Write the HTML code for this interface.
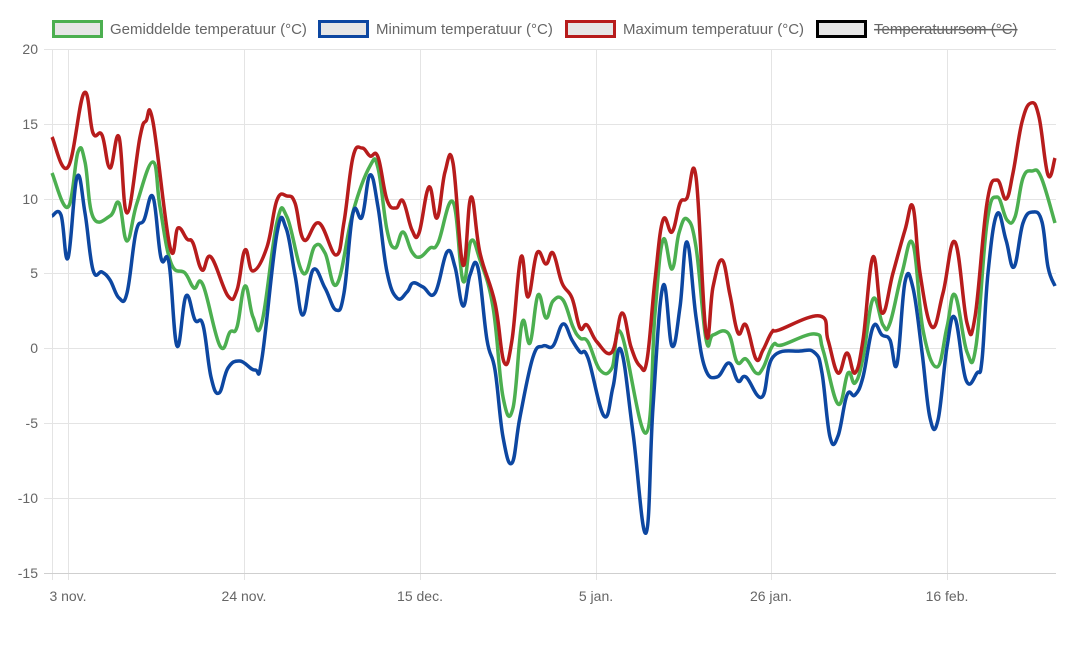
<!DOCTYPE html>
<html><head><meta charset="utf-8"><style>
body{margin:0;background:#fff;font-family:"Liberation Sans",sans-serif}
</style></head><body>
<svg width="1080" height="657" xmlns="http://www.w3.org/2000/svg" font-family="Liberation Sans, sans-serif">
<g stroke="#e4e4e4" stroke-width="1">
<line x1="44" y1="49.5" x2="1056" y2="49.5"/><line x1="44" y1="124.5" x2="1056" y2="124.5"/>
<line x1="44" y1="199.5" x2="1056" y2="199.5"/><line x1="44" y1="273.5" x2="1056" y2="273.5"/>
<line x1="44" y1="348.5" x2="1056" y2="348.5"/><line x1="44" y1="423.5" x2="1056" y2="423.5"/>
<line x1="44" y1="498.5" x2="1056" y2="498.5"/>
<line x1="52.5" y1="49" x2="52.5" y2="580"/><line x1="68.5" y1="49" x2="68.5" y2="580"/>
<line x1="244.5" y1="49" x2="244.5" y2="580"/><line x1="420.5" y1="49" x2="420.5" y2="580"/>
<line x1="596.5" y1="49" x2="596.5" y2="580"/><line x1="771.5" y1="49" x2="771.5" y2="580"/>
<line x1="947.5" y1="49" x2="947.5" y2="580"/>
</g>
<line x1="44" y1="573.5" x2="1056" y2="573.5" stroke="#cfcfcf"/>
<g font-size="14" fill="#666" text-anchor="end">
<text x="38" y="54">20</text><text x="38" y="129">15</text><text x="38" y="204">10</text>
<text x="38" y="278">5</text><text x="38" y="353">0</text><text x="38" y="428">-5</text>
<text x="38" y="503">-10</text><text x="38" y="578">-15</text>
</g>
<g font-size="14" fill="#666" text-anchor="middle">
<text x="68" y="601">3 nov.</text><text x="244" y="601">24 nov.</text><text x="420" y="601">15 dec.</text>
<text x="596" y="601">5 jan.</text><text x="771" y="601">26 jan.</text><text x="947" y="601">16 feb.</text>
</g>
<g font-size="15" fill="#666">
<rect x="53.5" y="21.5" width="48" height="15" fill="#e6e6e6" stroke="#4caf50" stroke-width="3"/>
<text x="110" y="34">Gemiddelde temperatuur (°C)</text>
<rect x="319.5" y="21.5" width="48" height="15" fill="#e6e6e6" stroke="#0d47a1" stroke-width="3"/>
<text x="376" y="34">Minimum temperatuur (°C)</text>
<rect x="566.5" y="21.5" width="48" height="15" fill="#e6e6e6" stroke="#b71c1c" stroke-width="3"/>
<text x="623" y="34">Maximum temperatuur (°C)</text>
<rect x="817.5" y="21.5" width="48" height="15" fill="#e6e6e6" stroke="#000" stroke-width="3"/>
<text x="874" y="34" text-decoration="line-through">Temperatuursom (°C)</text>
</g>
<path id="g" fill="none" stroke="#4caf50" stroke-width="3.5"/>
<path id="b" fill="none" stroke="#0d47a1" stroke-width="3.5"/>
<path id="r" fill="none" stroke="#b71c1c" stroke-width="3.5"/>
</svg>
<script>
var R=[52,137,68,167,84,93,93,133,102,135,110,168,119,137,127,213,140,137,146,121,153,122,170,247,178,228,187,239,193,243,202,270,211,257,228,296,237,290,245,250,253,271,267,247,277,200,287,196,295,203,304,240,319,223,336,255,344,222,353,157,362,148,370,156,378,157,387,200,396,208,403,201,412,230,419,233,429,187,437,218,445,172,453,163,463,265,471,197,480,253,495,303,504,362,512,340,521,257,528,297,537,253,546,264,553,253,562,283,572,298,580,328,587,325,597,342,612,352,622,313,631,347,640,366,647,360,655,280,663,220,672,232,680,203,687,198,696,177,706,333,713,287,722,260,730,295,738,333,746,325,756,359,763,350,772,332,779,330,820,316,828,340,838,373,847,353,855,373,863,340,873,257,882,313,893,273,905,230,913,207,920,273,932,327,943,293,955,242,967,323,975,317,987,203,997,180,1006,199,1013,173,1022,122,1031,103,1039,117,1048,175,1055,158];
var G=[52,173,68,207,78,152,85,162,93,217,110,216,119,203,127,241,137,203,153,162,160,207,171,263,185,273,194,288,203,285,220,346,230,332,237,327,245,286,253,317,262,322,277,222,287,217,303,273,315,246,325,253,337,284,353,212,370,166,378,168,387,230,395,248,403,232,412,252,420,257,430,248,438,243,453,202,463,281,471,241,480,260,493,307,503,397,513,408,522,323,530,343,538,295,546,318,553,301,563,300,573,327,580,338,588,342,600,370,612,368,621,333,646,433,655,313,663,240,672,269,679,233,687,219,696,247,706,339,713,335,728,333,737,362,746,359,756,373,763,368,773,345,782,345,815,334,823,350,838,404,848,373,855,383,863,358,873,299,883,325,890,323,902,273,913,244,923,330,937,367,947,327,955,295,967,352,976,346,987,223,997,197,1007,220,1015,217,1023,178,1032,171,1041,177,1055,223];
var B=[52,216,61,215,68,258,77,177,85,213,93,270,102,272,110,280,119,298,127,293,136,232,144,220,153,197,161,258,169,263,177,346,186,296,195,320,203,325,211,377,219,393,228,368,240,361,255,370,262,358,277,233,286,228,295,275,303,315,313,270,325,288,336,310,344,293,353,213,362,217,370,175,378,207,387,272,397,298,407,292,413,283,423,287,435,293,447,252,455,267,463,306,470,275,478,268,487,340,495,370,503,437,512,463,520,417,533,357,543,346,553,346,563,324,572,340,580,352,588,358,604,416,613,387,621,350,633,433,646,533,653,407,663,286,672,346,680,307,687,242,696,317,705,368,717,377,729,363,738,381,746,377,762,397,773,357,800,351,815,353,822,373,830,437,838,436,847,395,855,395,863,377,873,327,882,335,890,340,897,364,905,282,913,288,922,352,930,418,938,420,947,347,955,318,966,380,977,373,982,360,988,273,997,214,1006,240,1014,267,1023,223,1033,212,1042,222,1048,267,1055,286];
function path(a){var p=[];for(var i=0;i<a.length;i+=2)p.push([a[i],a[i+1]]);
var d="M"+p[0][0]+","+p[0][1];
for(var i=0;i<p.length-1;i++){var p0=p[i-1]||p[i],p1=p[i],p2=p[i+1],p3=p[i+2]||p2;
var k=0.2;d+=" C"+(p1[0]+(p2[0]-p0[0])*k)+","+(p1[1]+(p2[1]-p0[1])*k)+" "+(p2[0]-(p3[0]-p1[0])*k)+","+(p2[1]-(p3[1]-p1[1])*k)+" "+p2[0]+","+p2[1];}
return d;}
document.getElementById("g").setAttribute("d",path(G));
document.getElementById("b").setAttribute("d",path(B));
document.getElementById("r").setAttribute("d",path(R));
</script>
</body></html>
